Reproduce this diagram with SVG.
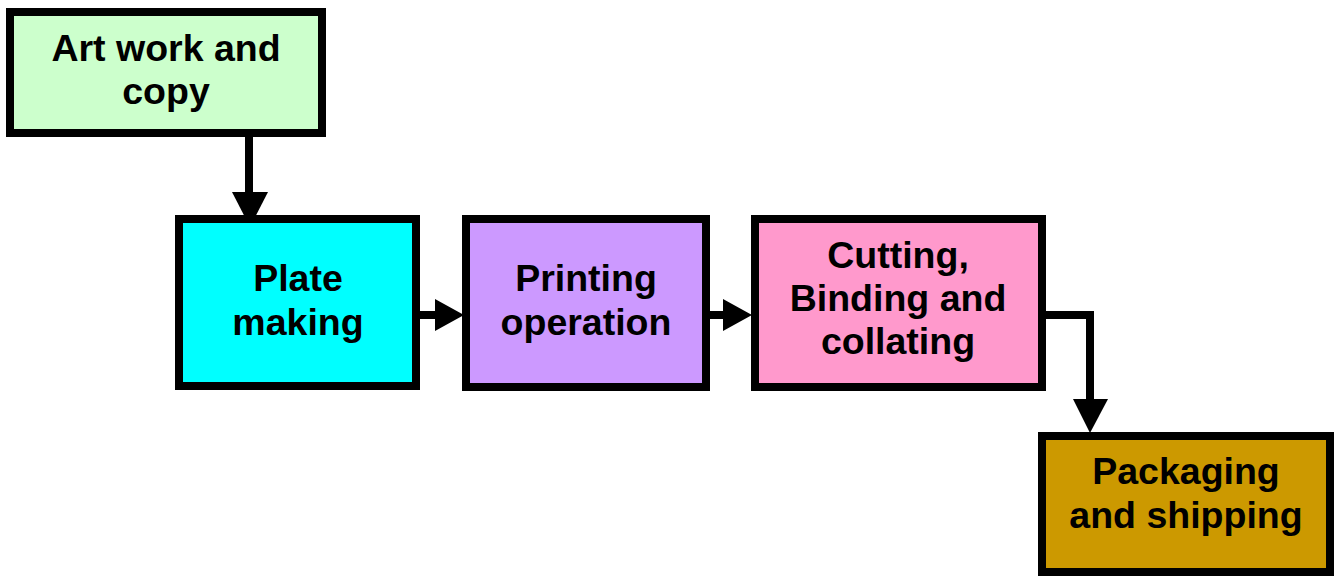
<svg xmlns="http://www.w3.org/2000/svg" width="1339" height="578" viewBox="0 0 1339 578">
<style>
.box{stroke:#000;stroke-width:8}
.lbl{font-family:"Liberation Sans",Arial,sans-serif;font-weight:bold;font-size:37.5px;fill:#000;text-anchor:middle}
.conn{fill:none;stroke:#000;stroke-width:8}
.head{fill:#000}
</style>
<rect width="1339" height="578" fill="#fff"/>
<g id="connectors">
<path class="conn" d="M249,137 V195"/>
<polygon class="head" points="232,192 268,192 250,227"/>
<path class="conn" d="M420,315 H438"/>
<polygon class="head" points="435,299 435,331 464,315"/>
<path class="conn" d="M710,315 H726"/>
<polygon class="head" points="723,299 723,331 752,315"/>
<path class="conn" d="M1046,315 H1090 V402"/>
<polygon class="head" points="1073,399 1108,399 1090,433"/>
</g>
<g id="art">
<rect class="box" x="10" y="12" width="312" height="121" fill="#ccffcc"/>
<text class="lbl" x="166" y="61">Art work and</text>
<text class="lbl" x="166" y="104">copy</text>
</g>
<g id="plate">
<rect class="box" x="179" y="219" width="237" height="167" fill="#00ffff"/>
<text class="lbl" x="298" y="291">Plate</text>
<text class="lbl" x="298" y="335">making</text>
</g>
<g id="printing">
<rect class="box" x="466" y="219" width="240" height="168" fill="#cc99ff"/>
<text class="lbl" x="586" y="291">Printing</text>
<text class="lbl" x="586" y="335">operation</text>
</g>
<g id="cutting">
<rect class="box" x="755" y="219" width="287" height="168" fill="#ff99cc"/>
<text class="lbl" x="898" y="268">Cutting,</text>
<text class="lbl" x="898" y="311">Binding and</text>
<text class="lbl" x="898" y="354">collating</text>
</g>
<g id="packaging">
<rect class="box" x="1042" y="436" width="288" height="136" fill="#cc9900"/>
<text class="lbl" x="1186" y="484">Packaging</text>
<text class="lbl" x="1186" y="528">and shipping</text>
</g>
</svg>
